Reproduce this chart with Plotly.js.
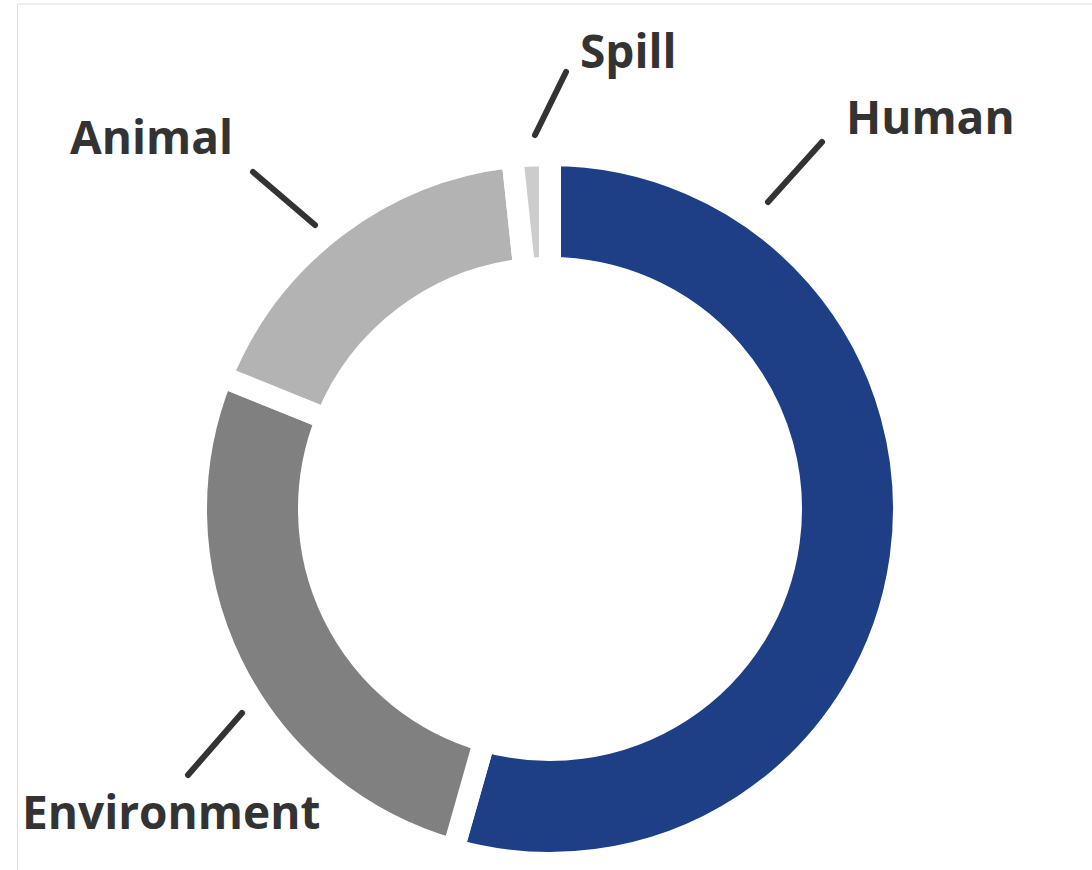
<!DOCTYPE html>
<html>
<head>
<meta charset="utf-8">
<script src="https://cdn.plot.ly/plotly-3.0.1.min.js"></script>
<style>
  html, body { margin: 0; padding: 0; background: #fff; }
  #chart { width: 1092px; height: 870px; }
</style>
</head>
<body>
<div id="chart"></div>
<script>
// Data
const categories = ["Human", "Environment", "Animal", "Spill"];
const values = [54.4, 26.7, 17.2, 1.7];
const colors = ["#1e3f85", "#808080", "#b3b3b3", "#cccccc"];
const labelText = ["Human", "Environment", "Animal", "Spill"];

const W = 1092, H = 870;
const px = x => x / W;
const py = y => 1 - y / H;

// Label placements (pixel coords) and leader lines
const labelPos = {
  Human:       {x: 844, y: 116},
  Environment: {x: 20,  y: 811},
  Animal:      {x: 68,  y: 136},
  Spill:       {x: 578, y: 50}
};
const leaders = {
  Human:       [[768, 202], [822, 142]],
  Environment: [[242, 713], [188, 775]],
  Animal:      [[253, 172], [315, 225]],
  Spill:       [[535, 135], [566, 72]]
};

const cx = 550, cy = 509, R = 354;

const trace = {
  type: "pie",
  labels: categories,
  values: values,
  sort: false,
  direction: "clockwise",
  rotation: 0,
  hole: 241 / 354,
  textinfo: "none",
  hoverinfo: "none",
  marker: { colors: colors, line: { color: "#ffffff", width: 22 } },
  domain: { x: [px(cx - R), px(cx + R)], y: [py(cy + R), py(cy - R)] },
  showlegend: false
};

const annotations = labelText.map(t => ({
  text: "<b>" + t + "</b>",
  xref: "paper", yref: "paper",
  x: px(labelPos[t].x), y: py(labelPos[t].y),
  xanchor: "left", yanchor: "middle",
  showarrow: false,
  font: { family: "Open Sans", size: 46, color: "#333333" }
}));

const shapes = categories.map(c => ({
  type: "line", xref: "paper", yref: "paper",
  x0: px(leaders[c][0][0]), y0: py(leaders[c][0][1]),
  x1: px(leaders[c][1][0]), y1: py(leaders[c][1][1]),
  line: { color: "#333333", width: 6 }
}));
shapes.push({
  type: "rect", xref: "paper", yref: "paper",
  x0: px(18), y0: py(4), x1: px(1120), y1: py(900),
  line: { color: "#dddddd", width: 1 }
});

const layout = {
  width: W, height: H,
  margin: { l: 0, r: 0, t: 0, b: 0 },
  paper_bgcolor: "#ffffff",
  showlegend: false,
  annotations: annotations,
  shapes: shapes
};

Plotly.newPlot("chart", [trace], layout, { displayModeBar: false, staticPlot: true }).then(() => {
  document.querySelectorAll(".shapelayer path").forEach(p => p.style.strokeLinecap = "round");
});
</script>
</body>
</html>
